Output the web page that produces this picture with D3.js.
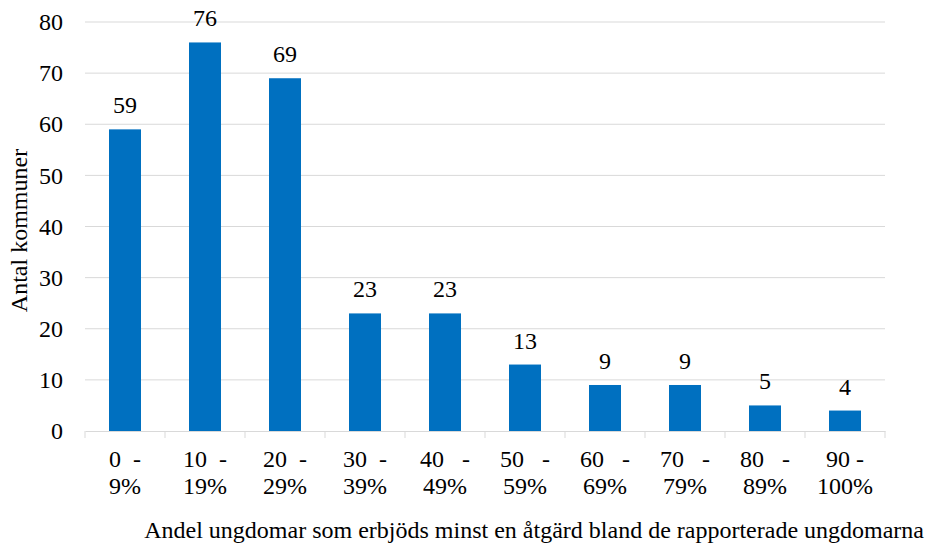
<!DOCTYPE html>
<html><head><meta charset="utf-8">
<script src="https://cdn.jsdelivr.net/npm/d3@7"></script>
<style>body{margin:0;background:#fff}svg text{font-family:'Liberation Serif','DejaVu Serif',serif;fill:#000}</style>
</head><body><svg id="c" width="927" height="544"></svg>
<script>
const categories = ["0-9%","10-19%","20-29%","30-39%","40-49%","50-59%","60-69%","70-79%","80-89%","90-100%"];
const values = [59,76,69,23,23,13,9,9,5,4];
const tickTop = ["0\u00A0\u00A0-","10\u00A0\u00A0-","20\u00A0\u00A0-","30\u00A0\u00A0-","40\u00A0\u00A0\u00A0-","50\u00A0\u00A0\u00A0-","60\u00A0\u00A0\u00A0-","70\u00A0\u00A0\u00A0-","80\u00A0\u00A0\u00A0-","90\u00A0-"];
const tickBottom = ["9%","19%","29%","39%","49%","59%","69%","79%","89%","100%"];
const yTicks = [0,10,20,30,40,50,60,70,80];
const yTitle = "Antal kommuner";
const xTitle = "Andel ungdomar som erbjöds minst en åtgärd bland de rapporterade ungdomarna";

const FONT = "'Liberation Serif','DejaVu Serif',serif";
const FS = 24;
const svg = d3.select("#c").attr("font-family", FONT);
const m = {l:85, r:42, t:22, b:113};
const W = 927, H = 544;
const x = d3.scaleBand().domain(categories).range([m.l, W-m.r]).paddingInner(0.6).paddingOuter(0.3);
const y = d3.scaleLinear().domain([0,80]).range([H-m.b, m.t]);

svg.append("g").selectAll("line").data(yTicks.filter(d=>d>0)).join("line")
  .attr("x1", m.l).attr("x2", W-m.r).attr("y1", d=>y(d)).attr("y2", d=>y(d))
  .attr("stroke", "#d9d9d9").attr("stroke-width", 1);

const ya = svg.append("g").attr("transform", `translate(${m.l},0)`)
  .call(d3.axisLeft(y).tickValues(yTicks).tickSize(0).tickPadding(22));
ya.attr("font-family", FONT).attr("font-size", FS);
ya.select(".domain").remove();
ya.selectAll("text").attr("fill","#000");

svg.append("g").selectAll("rect").data(values).join("rect")
  .attr("x", (d,i)=>x(categories[i])).attr("width", x.bandwidth())
  .attr("y", d=>y(d)).attr("height", d=>y(0)-y(d))
  .attr("fill", "#0070C0");

svg.append("g").attr("font-size",FS).selectAll("text").data(values).join("text")
  .attr("x", (d,i)=>x(categories[i])+x.bandwidth()/2).attr("y", d=>y(d)-16)
  .attr("text-anchor","middle").text(d=>d);

const xa = svg.append("g").attr("transform", `translate(0,${y(0)})`)
  .call(d3.axisBottom(x).tickSize(0).tickFormat(""));
xa.select(".domain").attr("stroke","#d9d9d9");
svg.append("g").selectAll("line").data(d3.range(categories.length+1)).join("line")
  .attr("x1", i=>m.l + i*x.step()).attr("x2", i=>m.l + i*x.step())
  .attr("y1", y(0)).attr("y2", y(0)+7).attr("stroke","#d9d9d9");

const tl = svg.append("g").attr("font-size",FS);
tl.selectAll("text.t").data(categories).join("text").attr("class","t")
  .attr("x", d=>x(d)+x.bandwidth()/2).attr("y", y(0)+36)
  .attr("text-anchor","middle")
  .text((d,i)=>tickTop[i]);
tl.selectAll("text.b").data(categories).join("text").attr("class","b")
  .attr("x", d=>x(d)+x.bandwidth()/2).attr("y", y(0)+63)
  .attr("text-anchor","middle")
  .text((d,i)=>tickBottom[i]);

svg.append("text").attr("transform", `translate(27,${(y(0)+y(80))/2+4}) rotate(-90)`)
  .attr("text-anchor","middle").attr("font-size",FS).text(yTitle);
svg.append("text").attr("x", 924).attr("y", 538).attr("text-anchor","end")
  .attr("font-size",FS).text(xTitle);
</script></body></html>
